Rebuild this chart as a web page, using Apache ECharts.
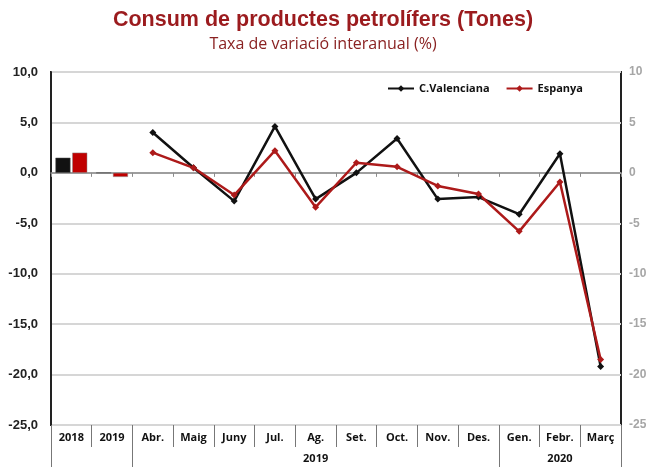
<!DOCTYPE html>
<html>
<head>
<meta charset="utf-8">
<script src="https://cdn.jsdelivr.net/npm/echarts@6/dist/echarts.min.js"></script>
<style>
  html, body { margin: 0; padding: 0; background: #fff; }
  #chart { width: 646px; height: 467px; }
</style>
</head>
<body>
<div id="chart"></div>
<script>
// categories (first two are annual, then months)
const categories = ['2018', '2019', 'Abr.', 'Maig', 'Juny', 'Jul.', 'Ag.', 'Set.', 'Oct.', 'Nov.', 'Des.', 'Gen.', 'Febr.', 'Març'];
const yearLabels = ['', '', '', '', '', '', '2019', '', '', '', '', '', '2020', ''];

// annual bars
const cvAnnual = [1.5, 0.0, null, null, null, null, null, null, null, null, null, null, null, null];
const esAnnual = [2.0, -0.4, null, null, null, null, null, null, null, null, null, null, null, null];

// monthly lines
const cvMonthly = [null, null, 4.0, 0.5, -2.8, 4.6, -2.6, 0.0, 3.4, -2.6, -2.4, -4.1, 1.9, -19.2];
const esMonthly = [null, null, 2.0, 0.5, -2.2, 2.2, -3.4, 1.0, 0.6, -1.3, -2.1, -5.8, -0.9, -18.5];

const yTicks = [10, 5, 0, -5, -10, -15, -20, -25];

const chart = echarts.init(document.getElementById('chart'));
const labelFont = 'Liberation Sans';

const option = {
    animation: false,
    title: {
        text: 'Consum de productes petrolífers (Tones)',
        subtext: 'Taxa de variació interanual (%)',
        left: 'center',
        top: 4,
        padding: [5, 12, 5, 0],
        itemGap: 5,
        textStyle: { fontFamily: labelFont, fontSize: 21.5, fontWeight: 'bold', color: '#9b1b1e' },
        subtextStyle: { fontFamily: 'Open Sans', fontSize: 16, color: '#8a2222' }
    },
    legend: {
        data: ['C.Valenciana', 'Espanya'],
        left: 382,
        top: 78,
        itemWidth: 26,
        itemHeight: 8,
        itemGap: 16,
        textStyle: { fontFamily: 'Open Sans', fontSize: 11, fontWeight: 'bold', color: '#111' }
    },
    grid: {
        left: 51, right: 25, top: 72, bottom: 42,
        outerBoundsMode: 'none',
        show: true, borderColor: '#222', borderWidth: 2
    },
    xAxis: [
        {   // zero line with small ticks
            type: 'category', data: categories, position: 'bottom',
            axisLine: { onZero: true, lineStyle: { color: '#8c8c8c', width: 1.5 } },
            axisTick: { show: true, interval: 0, length: 4, lineStyle: { color: '#8c8c8c' } },
            axisLabel: { show: false }
        },
        {   // month labels
            type: 'category', data: categories, position: 'bottom',
            axisLine: { show: false, onZero: false },
            axisTick: { show: true, interval: 0, length: 22, lineStyle: { color: '#777' } },
            axisLabel: { interval: 0, margin: 7, fontFamily: 'Open Sans', fontSize: 11, fontWeight: 'bold', color: '#111' }
        },
        {   // year groups
            type: 'category', data: yearLabels, position: 'bottom',
            axisLine: { show: false, onZero: false },
            axisTick: {
                show: true, length: 42, lineStyle: { color: '#777' },
                interval: function (i) { return i === 0 || i === 2 || i === 11; }
            },
            axisLabel: { interval: 0, margin: 28, fontFamily: 'Open Sans', fontSize: 11, fontWeight: 'bold', color: '#111' }
        }
    ],
    yAxis: [
        {
            type: 'value', position: 'left', min: -25, max: 10, interval: 5,
            axisLine: { show: true, lineStyle: { color: '#222', width: 2 } },
            axisTick: { show: false },
            splitLine: { lineStyle: { color: '#d6d6d6', width: 2 } },
            axisLabel: {
                margin: 13, fontFamily: labelFont, fontSize: 13, fontWeight: 'bold', color: '#222',
                formatter: v => v.toFixed(1).replace('.', ',')
            }
        },
        {
            type: 'value', position: 'right', min: -25, max: 10, interval: 5,
            axisLine: { show: false },
            axisTick: { show: false },
            splitLine: { show: false },
            axisLabel: {
                margin: 8, fontFamily: labelFont, fontSize: 12, fontWeight: 'bold', color: '#a6a6a6',
                formatter: v => yTicks.indexOf(v) >= 0 ? String(v) : ''
            }
        }
    ],
    series: [
        {
            name: 'CV anual', type: 'bar', data: cvAnnual, xAxisIndex: 0, yAxisIndex: 0,
            barWidth: 15, barGap: '12%',
            itemStyle: { color: '#111', borderColor: '#555', borderWidth: 0.5 }
        },
        {
            name: 'ES anual', type: 'bar', data: esAnnual, xAxisIndex: 0, yAxisIndex: 0,
            barWidth: 15, barGap: '12%',
            itemStyle: { color: '#c00000', borderColor: '#888', borderWidth: 0.5 }
        },
        {
            name: 'C.Valenciana', type: 'line', data: cvMonthly, xAxisIndex: 0, yAxisIndex: 0,
            symbol: 'diamond', symbolSize: 7, showAllSymbol: true,
            lineStyle: { color: '#111', width: 2.5 },
            itemStyle: { color: '#111' }
        },
        {
            name: 'Espanya', type: 'line', data: esMonthly, xAxisIndex: 0, yAxisIndex: 0,
            symbol: 'diamond', symbolSize: 7, showAllSymbol: true,
            lineStyle: { color: '#ad1a1a', width: 2.5 },
            itemStyle: { color: '#ad1a1a' }
        }
    ]
};

chart.setOption(option);
</script>
</body>
</html>
